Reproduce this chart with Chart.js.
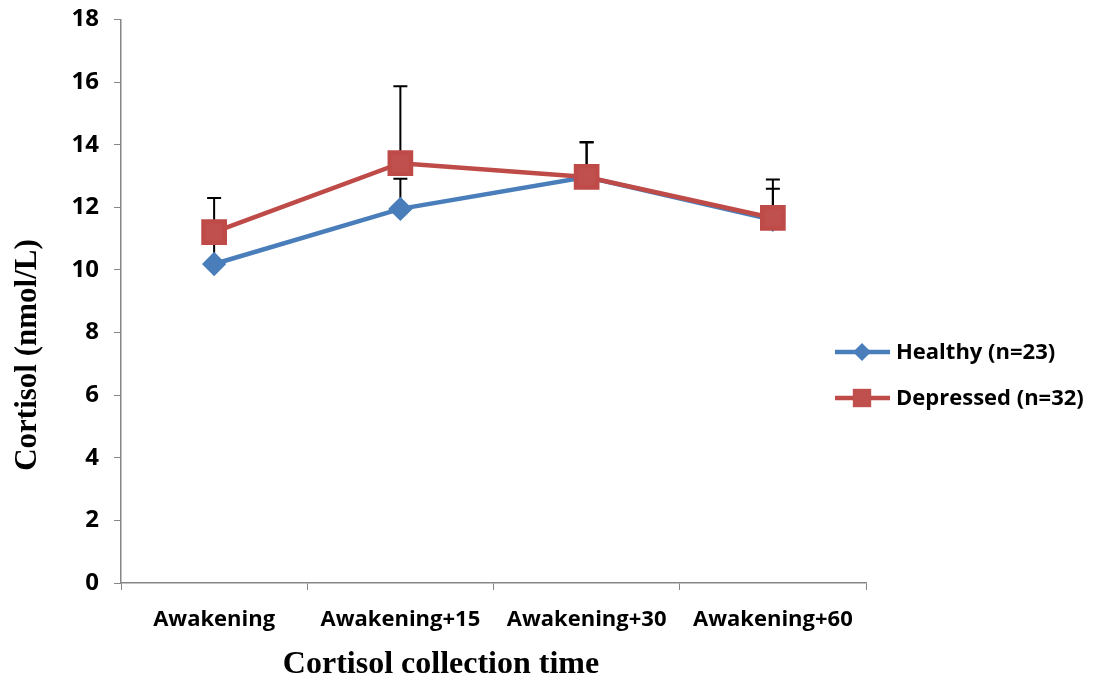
<!DOCTYPE html>
<html>
<head>
<meta charset="utf-8">
<title>Cortisol awakening response</title>
<script src="https://cdn.jsdelivr.net/npm/chart.js@4/dist/chart.umd.min.js"></script>
<style>
    html, body { margin: 0; padding: 0; background: #fff; }
    #wrap { width: 1103px; height: 682px; position: relative; }
</style>
</head>
<body>
<div id="wrap"><canvas id="cortisolChart"></canvas></div>
<script>
// Data
const timePoints = ['Awakening', 'Awakening+15', 'Awakening+30', 'Awakening+60'];
const healthyMean = [10.19, 11.95, 12.97, 11.6];
const healthySD = [1.1, 0.96, 1.1, 0.99];
const depressedMean = [11.21, 13.41, 12.97, 11.66];
const depressedSD = [1.09, 2.46, 1.12, 1.23];
const yTicks = [0, 2, 4, 6, 8, 10, 12, 14, 16, 18];

const blue = '#4A7EBB';
const red = '#BE4B48';
const axisGray = '#868686';

/**
 * Upper-only error bars, drawn behind the lines
 */
const errorBars = {
    id: 'errorBars',
    beforeDatasetsDraw(chart) {
        const ctx = chart.ctx;
        const x = chart.scales.x;
        const y = chart.scales.y;
        const sets = [[healthyMean, healthySD], [depressedMean, depressedSD]];
        ctx.save();
        ctx.strokeStyle = '#000';
        ctx.lineWidth = 2;
        sets.forEach(function(pair) {
            pair[0].forEach(function(mean, i) {
                const px = x.getPixelForValue(i);
                const py = y.getPixelForValue(mean);
                const top = y.getPixelForValue(mean + pair[1][i]);
                ctx.beginPath();
                ctx.moveTo(px, py);
                ctx.lineTo(px, top);
                ctx.moveTo(px - 7, top);
                ctx.lineTo(px + 7, top);
                ctx.stroke();
            });
        });
        ctx.restore();
    }
};

/**
 * Axis titles and legend (line + marker, like the original)
 */
function drawMarker(ctx, style, cx, cy, r, color) {
    ctx.fillStyle = color;
    ctx.beginPath();
    if (style === 'rectRot') {
        ctx.moveTo(cx - r, cy);
        ctx.lineTo(cx, cy - r);
        ctx.lineTo(cx + r, cy);
        ctx.lineTo(cx, cy + r);
    } else {
        const s = r * Math.SQRT1_2;
        ctx.rect(cx - s, cy - s, 2 * s, 2 * s);
    }
    ctx.closePath();
    ctx.fill();
}

const decorations = {
    id: 'decorations',
    afterDraw(chart) {
        const ctx = chart.ctx;
        const area = chart.chartArea;
        ctx.save();

        // axis titles
        ctx.fillStyle = '#000';
        ctx.font = 'bold 32px "Liberation Serif"';
        ctx.textAlign = 'center';
        ctx.textBaseline = 'middle';
        ctx.fillText('Cortisol collection time', 441, 665);
        ctx.font = 'bold 31px "Liberation Serif"';
        ctx.translate(28, 355);
        ctx.rotate(-Math.PI / 2);
        ctx.fillText('Cortisol (nmol/L)', 0, 0);
        ctx.setTransform(1, 0, 0, 1, 0, 0);

        // legend
        const left = area.right - 31;
        const rows = [352, 398];
        ctx.font = 'bold 22px "Open Sans"';
        ctx.textAlign = 'left';
        chart.data.datasets.forEach(function(ds, i) {
            const cy = rows[i];
            ctx.strokeStyle = ds.borderColor;
            ctx.lineWidth = 4.5;
            ctx.beginPath();
            ctx.moveTo(left, cy);
            ctx.lineTo(left + 55, cy);
            ctx.stroke();
            drawMarker(ctx, ds.pointStyle, left + 27, cy, ds.pointStyle === 'rect' ? 13 : 9, ds.pointBackgroundColor);
            ctx.fillStyle = '#000';
            ctx.fillText(ds.label, left + 61, cy + 1);
        });
        ctx.restore();
    }
};

const ctx = document.getElementById('cortisolChart');
new Chart(ctx, {
    type: 'line',
    data: {
        labels: timePoints,
        datasets: [
            {
                label: 'Healthy (n=23)',
                data: healthyMean,
                order: 2,
                borderColor: blue,
                backgroundColor: blue,
                pointBackgroundColor: blue,
                pointBorderColor: blue,
                borderWidth: 4.5,
                pointStyle: 'rectRot',
                pointRadius: 9,
                tension: 0
            },
            {
                label: 'Depressed (n=32)',
                data: depressedMean,
                order: 1,
                borderColor: red,
                backgroundColor: '#C0504D',
                pointBackgroundColor: '#C0504D',
                pointBorderColor: red,
                borderWidth: 4.5,
                pointStyle: 'rect',
                pointRadius: 15,
                tension: 0
            }
        ]
    },
    options: {
        responsive: true,
        maintainAspectRatio: false,
        animation: false,
        layout: { padding: { top: 18, right: 237, left: 0, bottom: 0 } },
        plugins: {
            legend: { display: false },
            tooltip: { enabled: false }
        },
        scales: {
            x: {
                offset: true,
                grid: {
                    offset: true,
                    drawOnChartArea: false,
                    drawTicks: true,
                    tickLength: 7,
                    color: axisGray
                },
                border: { color: axisGray, width: 1.5 },
                ticks: {
                    color: '#000',
                    font: { family: 'Open Sans', weight: 'bold', size: 22 },
                    padding: 17,
                    maxRotation: 0
                },
                afterFit: function(scale) { scale.height = 99; }
            },
            y: {
                min: 0,
                max: 18,
                afterBuildTicks: function(scale) {
                    scale.ticks = yTicks.map(function(v) { return { value: v }; });
                },
                grid: {
                    drawOnChartArea: false,
                    drawTicks: true,
                    tickLength: 7,
                    color: axisGray
                },
                border: { color: axisGray, width: 1.5 },
                ticks: {
                    color: '#000',
                    font: { family: 'Open Sans', weight: 'bold', size: 24 },
                    padding: 15
                },
                afterFit: function(scale) {
                    scale.width = 121;
                    scale.paddingTop = 0;
                    scale.paddingBottom = 0;
                }
            }
        }
    },
    plugins: [errorBars, decorations]
});
</script>
</body>
</html>
